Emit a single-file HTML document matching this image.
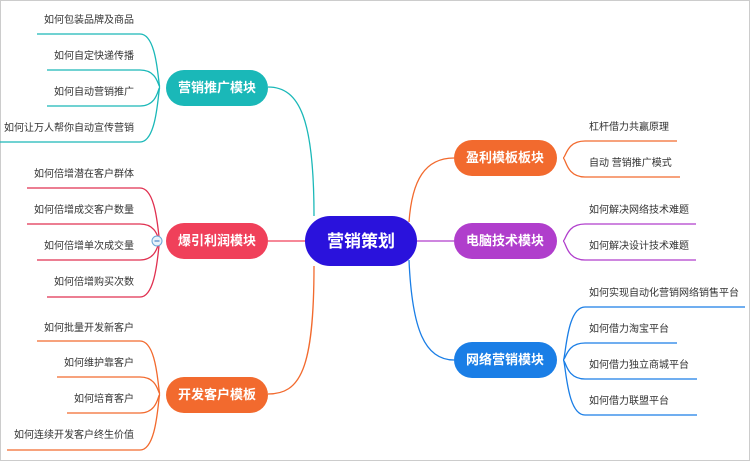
<!DOCTYPE html>
<html><head><meta charset="utf-8"><style>
html,body{margin:0;padding:0;background:#fff}
svg{display:block}
text{font-family:"Liberation Sans","Noto Sans CJK SC",sans-serif}
.l{font-size:10px;fill:#333}
.n{font-size:13px;font-weight:bold;fill:#fff}
</style></head><body>
<svg width="750" height="461" viewBox="0 0 750 461" xmlns="http://www.w3.org/2000/svg">
<rect x="0.5" y="0.5" width="749" height="460" fill="#fff" stroke="#ccc"/>
<g fill="none" stroke-width="1.3">
<path d="M314,216 C314,120 300,87 268,87" stroke="#1ab8b8"/>
<path d="M268,241 L306,241" stroke="#f0405a"/>
<path d="M314,266 C314,370 300,394 268,394" stroke="#f26a2e"/>
<path d="M409,222 C412,180 425,158 454,158" stroke="#f26a2e"/>
<path d="M417,241 L454,241" stroke="#b03ecc"/>
<path d="M409,260 C412,330 425,360 454,360" stroke="#1a7ee6"/>
<g stroke="#1ab8b8">
<path d="M160,87 C158,87 158,34 140,34 L37,34"/>
<path d="M160,87 C158,87 158,70 140,70 L47,70"/>
<path d="M160,87 C158,87 158,106 140,106 L47,106"/>
<path d="M160,87 C158,87 158,142 140,142 L0,142"/>
</g>
<g stroke="#e03050">
<path d="M160,241 C158,241 158,188 140,188 L27,188"/>
<path d="M160,241 C158,241 158,224 140,224 L27,224"/>
<path d="M160,241 C158,241 158,260 140,260 L37,260"/>
<path d="M160,241 C158,241 158,297 140,297 L47,297"/>
</g>
<g stroke="#f26a2e">
<path d="M160,394 C158,394 158,341 140,341 L37,341"/>
<path d="M160,394 C158,394 158,377 140,377 L57,377"/>
<path d="M160,394 C158,394 158,413 140,413 L67,413"/>
<path d="M160,394 C158,394 158,450 140,450 L7,450"/>
</g>
<g stroke="#f26a2e">
<path d="M563,158 C566,158 566,141 585,141 L677,141"/>
<path d="M563,158 C566,158 566,177 585,177 L680,177"/>
</g>
<g stroke="#b03ecc">
<path d="M563,241 C566,241 566,224 585,224 L696,224"/>
<path d="M563,241 C566,241 566,260 585,260 L696,260"/>
</g>
<g stroke="#1a7ee6">
<path d="M563,360 C566,360 566,307 585,307 L745,307"/>
<path d="M563,360 C566,360 566,343 585,343 L677,343"/>
<path d="M563,360 C566,360 566,379 585,379 L697,379"/>
<path d="M563,360 C566,360 566,415 585,415 L697,415"/>
</g>
</g>
<circle cx="157" cy="241" r="5" fill="#e8f2fa" stroke="#6aa6d6"/>
<line x1="154.5" y1="241" x2="159.5" y2="241" stroke="#4a86c6" stroke-width="1.2"/>
<rect x="305" y="216" width="112" height="50" rx="25" fill="#2a12dc"/>
<text x="361" y="247" text-anchor="middle" font-size="17" font-weight="bold" fill="#fff">营销策划</text>
<rect x="166" y="70" width="102" height="36" rx="18" fill="#1ab8b8"/>
<text class="n" x="217" y="92" text-anchor="middle">营销推广模块</text>
<rect x="166" y="223" width="102" height="36" rx="18" fill="#f0405a"/>
<text class="n" x="217" y="245" text-anchor="middle">爆引利润模块</text>
<rect x="166" y="377" width="102" height="36" rx="18" fill="#f26a2e"/>
<text class="n" x="217" y="399" text-anchor="middle">开发客户模板</text>
<rect x="454" y="140" width="103" height="36" rx="18" fill="#f26a2e"/>
<text class="n" x="505" y="162" text-anchor="middle">盈利模板板块</text>
<rect x="454" y="223" width="103" height="36" rx="18" fill="#b03ecc"/>
<text class="n" x="505" y="245" text-anchor="middle">电脑技术模块</text>
<rect x="454" y="342" width="103" height="36" rx="18" fill="#1a7ee6"/>
<text class="n" x="505" y="364" text-anchor="middle">网络营销模块</text>
<g text-anchor="end">
<text class="l" x="134" y="23">如何包装品牌及商品</text>
<text class="l" x="134" y="59">如何自定快递传播</text>
<text class="l" x="134" y="95">如何自动营销推广</text>
<text class="l" x="134" y="131">如何让万人帮你自动宣传营销</text>
<text class="l" x="134" y="177">如何倍增潜在客户群体</text>
<text class="l" x="134" y="213">如何倍增成交客户数量</text>
<text class="l" x="134" y="249">如何倍增单次成交量</text>
<text class="l" x="134" y="285">如何倍增购买次数</text>
<text class="l" x="134" y="331">如何批量开发新客户</text>
<text class="l" x="134" y="366">如何维护靠客户</text>
<text class="l" x="134" y="402">如何培育客户</text>
<text class="l" x="134" y="438">如何连续开发客户终生价值</text>
</g>
<text class="l" x="589" y="130">杠杆借力共赢原理</text>
<text class="l" x="589" y="166">自动 营销推广模式</text>
<text class="l" x="589" y="213">如何解决网络技术难题</text>
<text class="l" x="589" y="249">如何解决设计技术难题</text>
<text class="l" x="589" y="296">如何实现自动化营销网络销售平台</text>
<text class="l" x="589" y="332">如何借力淘宝平台</text>
<text class="l" x="589" y="368">如何借力独立商城平台</text>
<text class="l" x="589" y="404">如何借力联盟平台</text>
</svg>
</body></html>
